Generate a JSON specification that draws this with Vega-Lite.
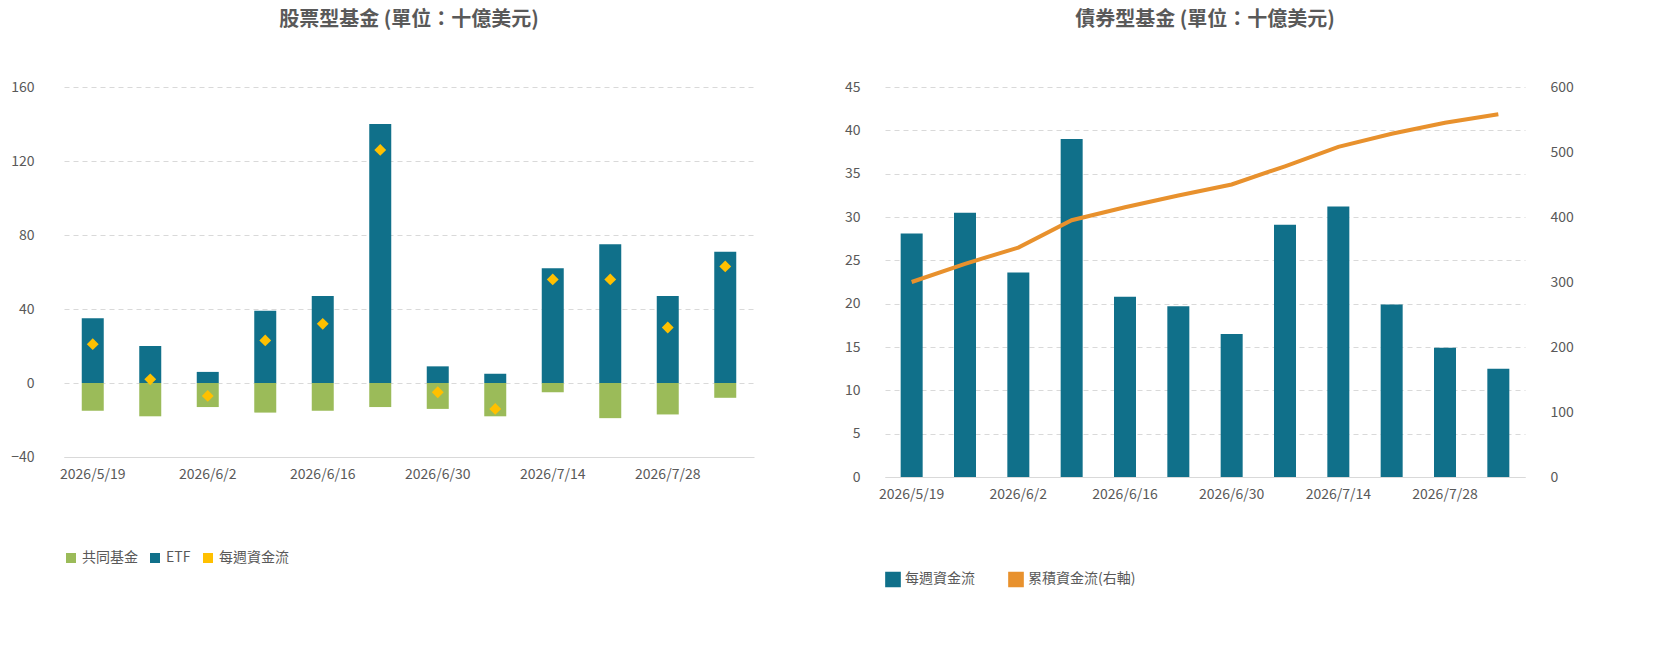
{
  "$schema": "https://vega.github.io/schema/vega-lite/v6.json",
  "background": "white",
  "padding": {"left": 10, "top": 10, "right": 10, "bottom": 5},
  "spacing": 90,
  "resolve": {"scale": {"color": "independent"}, "legend": {"color": "independent"}},
  "datasets": {
    "equity": [
      {"date": "2026/5/19", "type": "ETF", "value": 35}, {"date": "2026/5/19", "type": "共同基金", "value": -15},
      {"date": "2026/5/26", "type": "ETF", "value": 20}, {"date": "2026/5/26", "type": "共同基金", "value": -18},
      {"date": "2026/6/2", "type": "ETF", "value": 6}, {"date": "2026/6/2", "type": "共同基金", "value": -13},
      {"date": "2026/6/9", "type": "ETF", "value": 39}, {"date": "2026/6/9", "type": "共同基金", "value": -16},
      {"date": "2026/6/16", "type": "ETF", "value": 47}, {"date": "2026/6/16", "type": "共同基金", "value": -15},
      {"date": "2026/6/23", "type": "ETF", "value": 140}, {"date": "2026/6/23", "type": "共同基金", "value": -13},
      {"date": "2026/6/30", "type": "ETF", "value": 9}, {"date": "2026/6/30", "type": "共同基金", "value": -14},
      {"date": "2026/7/7", "type": "ETF", "value": 5}, {"date": "2026/7/7", "type": "共同基金", "value": -18},
      {"date": "2026/7/14", "type": "ETF", "value": 62}, {"date": "2026/7/14", "type": "共同基金", "value": -5},
      {"date": "2026/7/21", "type": "ETF", "value": 75}, {"date": "2026/7/21", "type": "共同基金", "value": -19},
      {"date": "2026/7/28", "type": "ETF", "value": 47}, {"date": "2026/7/28", "type": "共同基金", "value": -17},
      {"date": "2026/8/4", "type": "ETF", "value": 71}, {"date": "2026/8/4", "type": "共同基金", "value": -8}
    ],
    "equityTotal": [
      {"date": "2026/5/19", "type": "每週資金流", "value": 21},
      {"date": "2026/5/26", "type": "每週資金流", "value": 2},
      {"date": "2026/6/2", "type": "每週資金流", "value": -7},
      {"date": "2026/6/9", "type": "每週資金流", "value": 23},
      {"date": "2026/6/16", "type": "每週資金流", "value": 32},
      {"date": "2026/6/23", "type": "每週資金流", "value": 126},
      {"date": "2026/6/30", "type": "每週資金流", "value": -5},
      {"date": "2026/7/7", "type": "每週資金流", "value": -14},
      {"date": "2026/7/14", "type": "每週資金流", "value": 56},
      {"date": "2026/7/21", "type": "每週資金流", "value": 56},
      {"date": "2026/7/28", "type": "每週資金流", "value": 30},
      {"date": "2026/8/4", "type": "每週資金流", "value": 63}
    ],
    "bond": [
      {"date": "2026/5/19", "weekly": 28.1, "cum": 300},
      {"date": "2026/5/26", "weekly": 30.5, "cum": 328},
      {"date": "2026/6/2", "weekly": 23.6, "cum": 353},
      {"date": "2026/6/9", "weekly": 39, "cum": 395},
      {"date": "2026/6/16", "weekly": 20.8, "cum": 415},
      {"date": "2026/6/23", "weekly": 19.7, "cum": 433},
      {"date": "2026/6/30", "weekly": 16.5, "cum": 450},
      {"date": "2026/7/7", "weekly": 29.1, "cum": 478},
      {"date": "2026/7/14", "weekly": 31.2, "cum": 508},
      {"date": "2026/7/21", "weekly": 19.9, "cum": 528},
      {"date": "2026/7/28", "weekly": 14.9, "cum": 545},
      {"date": "2026/8/4", "weekly": 12.5, "cum": 558}
    ]
  },
  "hconcat": [
    {
      "title": {"text": "股票型基金 (單位：十億美元)", "fontSize": 20, "color": "#595959", "offset": 50},
      "width": 690,
      "height": 370,
      "layer": [
        {
          "data": {"name": "equity"},
          "mark": {"type": "bar", "width": 22},
          "encoding": {
            "x": {"field": "date", "type": "ordinal", "sort": null, "title": null,
              "axis": {"labelAngle": 0, "ticks": false, "domain": true, "domainColor": "#d9d9d9", "labelFontSize": 14, "labelColor": "#595959", "labelPadding": 10,
                "labelExpr": "indexof(['2026/5/19','2026/6/2','2026/6/16','2026/6/30','2026/7/14','2026/7/28'], datum.value) >= 0 ? datum.value : ''"}},
            "y": {"field": "value", "type": "quantitative", "stack": "zero", "title": null,
              "scale": {"domain": [-40, 160]},
              "axis": {"values": [-40, -20, 0, 20, 40, 60, 80, 100, 120, 140, 160], "labelOverlap": false, "gridDash": [5, 4], "gridColor": "#d9d9d9", "domain": false, "ticks": false, "labelFontSize": 14, "labelColor": "#595959", "labelPadding": 30}},
            "color": {"field": "type", "type": "nominal",
              "scale": {"domain": ["共同基金", "ETF", "每週資金流"], "range": ["#9bbb59", "#10708a", "#ffc000"]},
              "legend": {"orient": "bottom", "title": null, "direction": "horizontal", "symbolType": "square", "labelFontSize": 14, "labelColor": "#595959", "offset": 70}}
          }
        },
        {
          "data": {"name": "equityTotal"},
          "mark": {"type": "point", "shape": "diamond", "filled": true, "size": 140, "opacity": 1},
          "encoding": {
            "x": {"field": "date", "type": "ordinal", "sort": null},
            "y": {"field": "value", "type": "quantitative"},
            "color": {"field": "type", "type": "nominal"}
          }
        }
      ]
    },
    {
      "title": {"text": "債券型基金 (單位：十億美元)", "fontSize": 20, "color": "#595959", "offset": 50},
      "width": 640,
      "height": 390,
      "data": {"name": "bond"},
      "layer": [
        {
          "transform": [{"calculate": "'每週資金流'", "as": "s"}],
          "mark": {"type": "bar", "width": 22},
          "encoding": {
            "x": {"field": "date", "type": "ordinal", "sort": null, "title": null,
              "axis": {"labelAngle": 0, "ticks": false, "domainColor": "#d9d9d9", "labelFontSize": 14, "labelColor": "#595959", "labelPadding": 10,
                "labelExpr": "indexof(['2026/5/19','2026/6/2','2026/6/16','2026/6/30','2026/7/14','2026/7/28'], datum.value) >= 0 ? datum.value : ''"}},
            "y": {"field": "weekly", "type": "quantitative", "title": null,
              "scale": {"domain": [0, 45]},
              "axis": {"values": [0, 5, 10, 15, 20, 25, 30, 35, 40, 45], "labelOverlap": false, "gridDash": [5, 4], "gridColor": "#d9d9d9", "domain": false, "ticks": false, "labelFontSize": 14, "labelColor": "#595959", "labelPadding": 25}},
            "color": {"field": "s", "type": "nominal",
              "scale": {"domain": ["每週資金流", "累積資金流(右軸)"], "range": ["#10708a", "#e8912d"]},
              "legend": {"orient": "bottom", "title": null, "direction": "horizontal", "symbolType": "square", "symbolSize": 200, "labelFontSize": 14, "labelColor": "#595959", "offset": 70, "columnPadding": 30}}
          }
        },
        {
          "transform": [{"calculate": "'累積資金流(右軸)'", "as": "s"}],
          "mark": {"type": "line", "strokeWidth": 4},
          "encoding": {
            "x": {"field": "date", "type": "ordinal", "sort": null},
            "y": {"field": "cum", "type": "quantitative", "title": null,
              "scale": {"domain": [0, 600]},
              "axis": {"orient": "right", "values": [0, 100, 200, 300, 400, 500, 600], "labelOverlap": false, "grid": false, "domain": false, "ticks": false, "labelFontSize": 14, "labelColor": "#595959", "labelPadding": 25}},
            "color": {"field": "s", "type": "nominal"}
          }
        }
      ],
      "resolve": {"scale": {"y": "independent"}}
    }
  ],
  "config": {
    "view": {"stroke": null},
    "font": "Noto Sans CJK TC",
    "axisX": {"grid": false}
  }
}
